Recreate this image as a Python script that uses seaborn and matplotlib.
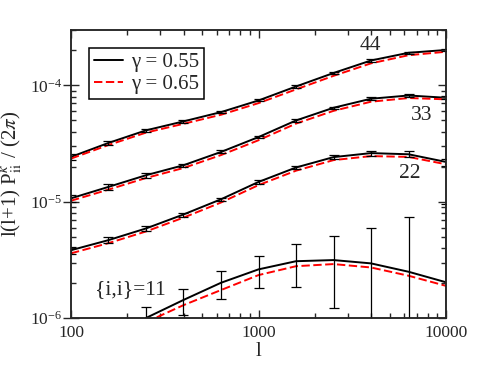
import numpy as np
import pandas as pd
import matplotlib
matplotlib.use("Agg")
import matplotlib.pyplot as plt
from matplotlib.lines import Line2D
from matplotlib.ticker import LogLocator, NullFormatter, StrMethodFormatter
import seaborn as sns

# multipole bins
ell = [100, 158, 251, 398, 631, 1000, 1585, 2512, 3981, 6310, 10000]
ell_11 = ell[2:]

# gamma = 0.55 (black, with error bars)
p44_a = [2.43e-5, 3.2e-5, 4.11e-5, 4.91e-5, 5.9e-5, 7.43e-5, 9.8e-5, 1.28e-4, 1.64e-4, 1.91e-4, 2.02e-4]
p33_a = [1.07e-5, 1.34e-5, 1.69e-5, 2.06e-5, 2.68e-5, 3.6e-5, 5.0e-5, 6.43e-5, 7.69e-5, 8.2e-5, 7.84e-5]
p22_a = [3.83e-6, 4.67e-6, 5.89e-6, 7.77e-6, 1.05e-5, 1.48e-5, 1.97e-5, 2.42e-5, 2.62e-5, 2.56e-5, 2.2e-5]
p11_a = [1.0e-6, 1.43e-6, 2.01e-6, 2.62e-6, 3.08e-6, 3.15e-6, 2.95e-6, 2.5e-6, 2.03e-6]

# gamma = 0.65 (red dashed)
p44_b = [2.35e-5, 3.07e-5, 3.93e-5, 4.68e-5, 5.6e-5, 7.05e-5, 9.25e-5, 1.21e-4, 1.55e-4, 1.82e-4, 1.95e-4]
p33_b = [1.02e-5, 1.27e-5, 1.6e-5, 1.95e-5, 2.52e-5, 3.38e-5, 4.7e-5, 6.05e-5, 7.25e-5, 7.8e-5, 7.6e-5]
p22_b = [3.6e-6, 4.4e-6, 5.55e-6, 7.3e-6, 9.85e-6, 1.39e-5, 1.85e-5, 2.28e-5, 2.47e-5, 2.43e-5, 2.1e-5]
p11_b = [0.92e-6, 1.29e-6, 1.74e-6, 2.34e-6, 2.79e-6, 2.91e-6, 2.72e-6, 2.31e-6, 1.89e-6]

# error bars on the gamma = 0.55 curves
err44 = [1.46e-6, 1.44e-6, 1.44e-6, 1.23e-6, 1.18e-6, 1.49e-6, 1.96e-6, 2.56e-6, 3.3e-6, 3.8e-6, 4.0e-6]
err33 = [7.5e-7, 7.4e-7, 7.6e-7, 7.2e-7, 8.0e-7, 9.0e-7, 1.25e-6, 1.6e-6, 2.3e-6, 2.5e-6, 2.35e-6]
err22 = [2.7e-7, 2.6e-7, 2.65e-7, 3.1e-7, 3.7e-7, 5.2e-7, 6.9e-7, 9.7e-7, 1.31e-6, 1.54e-6, 1.54e-6]
err11 = [2.5e-7, 3.6e-7, 5.4e-7, 8.0e-7, 1.24e-6, 1.93e-6, 3.05e-6, 4.9e-6, 7.5e-6]

gammas = ["\u03b3 = 0.55", "\u03b3 = 0.65"]
pairs = ["44", "33", "22", "11"]

rows = []
for g, curves in zip(gammas, [[p44_a, p33_a, p22_a, p11_a], [p44_b, p33_b, p22_b, p11_b]]):
    for pair, vals in zip(pairs, curves):
        xs = ell_11 if pair == "11" else ell
        for l, v in zip(xs, vals):
            rows.append({"l": l, "P": v, "gamma": g, "pair": pair})
df = pd.DataFrame(rows)

sns.set_style("ticks")
plt.rcParams["font.family"] = ["Liberation Serif", "DejaVu Serif"]
plt.rcParams["font.serif"] = ["Liberation Serif", "DejaVu Serif"]
plt.rcParams["mathtext.fontset"] = "stix"
plt.rcParams["axes.linewidth"] = 1.1

fig = plt.figure(figsize=(4.85, 3.74), dpi=100)
ax = fig.add_axes([0.1464, 0.1497, 0.7732, 0.7701])
ax.set_xscale("log")
ax.set_yscale("log")

sns.lineplot(data=df, x="l", y="P", hue="gamma", style="gamma", units="pair",
             estimator=None, sort=False, legend=False, ax=ax, linewidth=1.4,
             palette={gammas[0]: "black", gammas[1]: "#ff0000"},
             dashes={gammas[0]: "", gammas[1]: (4.3, 1.8)})

for xs, ys, es in [(ell, p44_a, err44), (ell, p33_a, err33), (ell, p22_a, err22), (ell_11, p11_a, err11)]:
    ax.errorbar(xs, ys, yerr=es, fmt="none", ecolor="black", elinewidth=0.9,
                capsize=3.5, capthick=0.9, zorder=3)

ax.set_xlim(100, 10000)
ax.set_ylim(1e-6, 3e-4)

ax.xaxis.set_major_formatter(StrMethodFormatter("{x:.0f}"))
ax.xaxis.set_minor_locator(LogLocator(base=10, subs=np.arange(2, 10)))
ax.yaxis.set_minor_locator(LogLocator(base=10, subs=np.arange(2, 10)))
ax.xaxis.set_minor_formatter(NullFormatter())
ax.yaxis.set_minor_formatter(NullFormatter())

ax.tick_params(which="both", top=True, right=False, direction="in", width=1.0, labelsize=12.5)
ax.tick_params(axis="x", which="major", length=5.5, pad=5)
ax.tick_params(axis="y", which="major", direction="inout", length=11, pad=1)
ax.tick_params(which="minor", length=3.6)

ax2 = ax.twinx()
ax2.set_yscale("log")
ax2.set_ylim(ax.get_ylim())
ax2.yaxis.set_minor_locator(LogLocator(base=10, subs=np.arange(2, 10)))
ax2.yaxis.set_minor_formatter(NullFormatter())
ax2.tick_params(which="both", direction="in", labelright=False, width=1.0)
ax2.tick_params(which="major", length=5.5)
ax2.tick_params(which="minor", length=3.6)

ax.set_xlabel("l", fontsize=15, labelpad=1)
ax.set_ylabel(r"l(l+1) P$^{\kappa}_{\rm ii}$ / (2$\pi$)", fontsize=15)
ax.yaxis.set_label_coords(-0.125, 0.5)

ax.text(3963, 2.2e-4, "44", fontsize=15.5, ha="center", va="center")
ax.text(7420, 5.5e-5, "33", fontsize=15.5, ha="center", va="center")
ax.text(6430, 1.75e-5, "22", fontsize=15.5, ha="center", va="center")
ax.text(207, 1.74e-6, "{i,i}=11", fontsize=15.5, ha="center", va="center")

handles = [Line2D([], [], color="black", lw=1.4),
           Line2D([], [], color="#ff0000", lw=1.4, dashes=(4.3, 1.8))]
leg = ax.legend(handles, gammas, loc="upper left", bbox_to_anchor=(0.048, 0.9385),
                fontsize=15, frameon=True, fancybox=False, framealpha=1,
                edgecolor="black", handlelength=1.4, handletextpad=0.35,
                labelspacing=0.1, borderpad=0.25, borderaxespad=0)
leg.get_frame().set_linewidth(1.1)

fig.savefig("out.png", dpi=100)
